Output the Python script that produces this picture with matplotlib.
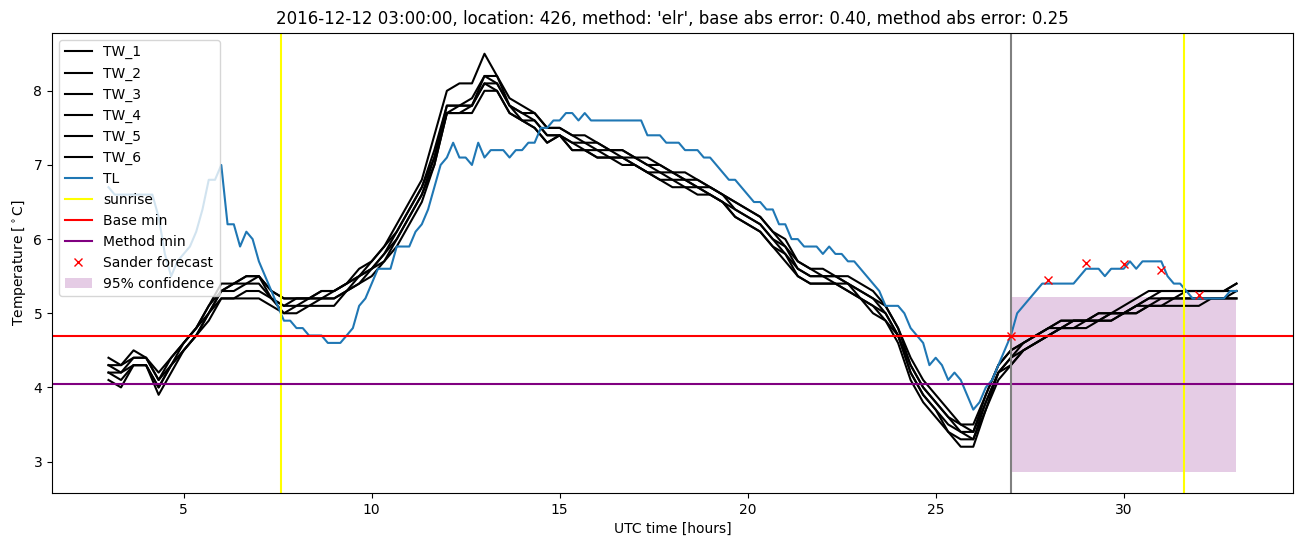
import numpy as np
import matplotlib
matplotlib.use("Agg")
import matplotlib.pyplot as plt

# 10-minute road temperature (TL), 3h .. 33h
tl_time = np.linspace(3, 33, 181)
tl = [
    6.7, 6.6, 6.6, 6.6, 6.6, 6.6,   # 3
    6.6, 6.6, 6.3, 5.8, 5.5, 5.7,   # 4
    5.8, 5.9, 6.1, 6.4, 6.8, 6.8,   # 5
    7.0, 6.2, 6.2, 5.9, 6.1, 6.0,   # 6
    5.7, 5.5, 5.3, 5.1, 4.9, 4.9,   # 7
    4.8, 4.8, 4.7, 4.7, 4.7, 4.6,   # 8
    4.6, 4.6, 4.7, 4.8, 5.1, 5.2,   # 9
    5.4, 5.6, 5.6, 5.6, 5.9, 5.9,   # 10
    5.9, 6.1, 6.2, 6.4, 6.7, 7.0,   # 11
    7.1, 7.3, 7.1, 7.1, 7.0, 7.3,   # 12
    7.1, 7.2, 7.2, 7.2, 7.1, 7.2,   # 13
    7.2, 7.3, 7.3, 7.5, 7.5, 7.6,   # 14
    7.6, 7.7, 7.7, 7.6, 7.7, 7.6,   # 15
    7.6, 7.6, 7.6, 7.6, 7.6, 7.6,   # 16
    7.6, 7.6, 7.4, 7.4, 7.4, 7.3,   # 17
    7.3, 7.3, 7.2, 7.2, 7.2, 7.1,   # 18
    7.1, 7.0, 6.9, 6.8, 6.8, 6.7,   # 19
    6.6, 6.5, 6.5, 6.4, 6.4, 6.2,   # 20
    6.2, 6.0, 6.0, 5.9, 5.9, 5.9,   # 21
    5.8, 5.9, 5.8, 5.8, 5.7, 5.7,   # 22
    5.6, 5.5, 5.4, 5.3, 5.1, 5.1,   # 23
    5.1, 5.0, 4.8, 4.7, 4.6, 4.3,   # 24
    4.4, 4.3, 4.1, 4.2, 4.1, 3.9,   # 25
    3.7, 3.8, 4.0, 4.1, 4.3, 4.5,   # 26
    4.7, 5.0, 5.1, 5.2, 5.3, 5.4,   # 27
    5.4, 5.4, 5.4, 5.4, 5.4, 5.5,   # 28
    5.6, 5.6, 5.6, 5.5, 5.6, 5.6,   # 29
    5.6, 5.7, 5.6, 5.7, 5.7, 5.7,   # 30
    5.7, 5.5, 5.4, 5.4, 5.3, 5.2,   # 31
    5.2, 5.2, 5.2, 5.2, 5.2, 5.3,   # 32
    5.3,
]

# 20-minute wet-bulb / sensor series TW_1..TW_6
tw_time = np.linspace(3, 33, 91)
tw_1 = [4.4, 4.3, 4.5, 4.4, 4.2, 4.4, 4.6, 4.8, 5.1, 5.4, 5.4, 5.5,
        5.5, 5.3, 5.2, 5.2, 5.2, 5.3, 5.3, 5.4, 5.6, 5.7, 5.9, 6.2,
        6.5, 6.8, 7.4, 8.0, 8.1, 8.1, 8.5, 8.2, 7.9, 7.8, 7.7, 7.5,
        7.5, 7.4, 7.4, 7.3, 7.2, 7.2, 7.1, 7.1, 7.0, 6.9, 6.9, 6.8,
        6.7, 6.6, 6.5, 6.4, 6.3, 6.1, 6.0, 5.7, 5.6, 5.6, 5.5, 5.5,
        5.4, 5.3, 5.1, 4.8, 4.4, 4.1, 3.9, 3.7, 3.5, 3.5, 3.9, 4.3,
        4.5, 4.6, 4.7, 4.8, 4.9, 4.9, 4.9, 5.0, 5.0, 5.1, 5.2, 5.3,
        5.3, 5.3, 5.3, 5.3, 5.3, 5.3, 5.4]
tw_2 = [4.3, 4.3, 4.4, 4.4, 4.1, 4.4, 4.6, 4.8, 5.1, 5.3, 5.4, 5.5,
        5.5, 5.3, 5.2, 5.2, 5.2, 5.3, 5.3, 5.4, 5.5, 5.7, 5.9, 6.1,
        6.4, 6.7, 7.2, 7.8, 7.8, 7.9, 8.2, 8.2, 7.8, 7.7, 7.7, 7.5,
        7.5, 7.4, 7.3, 7.3, 7.2, 7.2, 7.1, 7.0, 7.0, 6.9, 6.8, 6.8,
        6.7, 6.6, 6.5, 6.4, 6.3, 6.1, 5.9, 5.7, 5.6, 5.5, 5.5, 5.4,
        5.3, 5.2, 5.1, 4.8, 4.3, 4.0, 3.8, 3.6, 3.5, 3.4, 3.9, 4.3,
        4.5, 4.6, 4.7, 4.8, 4.9, 4.9, 4.9, 5.0, 5.0, 5.0, 5.1, 5.2,
        5.3, 5.3, 5.3, 5.3, 5.3, 5.3, 5.4]
tw_3 = [4.3, 4.2, 4.4, 4.4, 4.1, 4.3, 4.6, 4.8, 5.0, 5.3, 5.4, 5.4,
        5.5, 5.2, 5.1, 5.2, 5.2, 5.2, 5.3, 5.4, 5.5, 5.6, 5.8, 6.1,
        6.4, 6.7, 7.1, 7.8, 7.8, 7.8, 8.2, 8.1, 7.8, 7.7, 7.6, 7.4,
        7.4, 7.3, 7.3, 7.2, 7.2, 7.1, 7.1, 7.0, 6.9, 6.9, 6.8, 6.7,
        6.7, 6.6, 6.4, 6.3, 6.2, 6.0, 5.9, 5.6, 5.5, 5.5, 5.5, 5.4,
        5.3, 5.2, 5.0, 4.7, 4.3, 4.0, 3.8, 3.6, 3.4, 3.4, 3.8, 4.2,
        4.4, 4.6, 4.7, 4.8, 4.8, 4.9, 4.9, 4.9, 5.0, 5.0, 5.1, 5.2,
        5.2, 5.2, 5.3, 5.3, 5.3, 5.3, 5.3]
tw_4 = [4.2, 4.2, 4.3, 4.3, 4.0, 4.3, 4.5, 4.7, 5.0, 5.3, 5.3, 5.4,
        5.4, 5.2, 5.1, 5.1, 5.2, 5.2, 5.2, 5.3, 5.5, 5.6, 5.8, 6.0,
        6.3, 6.6, 7.1, 7.7, 7.8, 7.8, 8.1, 8.1, 7.8, 7.6, 7.6, 7.4,
        7.4, 7.3, 7.2, 7.2, 7.1, 7.1, 7.0, 6.9, 6.9, 6.8, 6.8, 6.7,
        6.6, 6.5, 6.4, 6.3, 6.2, 6.0, 5.8, 5.6, 5.5, 5.5, 5.4, 5.4,
        5.2, 5.1, 5.0, 4.7, 4.2, 3.9, 3.7, 3.5, 3.4, 3.3, 3.8, 4.2,
        4.4, 4.5, 4.6, 4.7, 4.8, 4.9, 4.9, 4.9, 5.0, 5.0, 5.1, 5.1,
        5.2, 5.2, 5.2, 5.2, 5.2, 5.2, 5.3]
tw_5 = [4.2, 4.1, 4.3, 4.3, 4.0, 4.3, 4.5, 4.7, 5.0, 5.2, 5.2, 5.3,
        5.3, 5.2, 5.0, 5.1, 5.1, 5.2, 5.2, 5.3, 5.4, 5.6, 5.7, 6.0,
        6.3, 6.6, 7.0, 7.7, 7.7, 7.8, 8.1, 8.0, 7.7, 7.6, 7.5, 7.3,
        7.4, 7.2, 7.2, 7.1, 7.1, 7.1, 7.0, 6.9, 6.8, 6.8, 6.7, 6.7,
        6.6, 6.5, 6.3, 6.2, 6.1, 5.9, 5.8, 5.5, 5.4, 5.4, 5.4, 5.3,
        5.2, 5.1, 4.9, 4.7, 4.2, 3.9, 3.7, 3.4, 3.3, 3.3, 3.7, 4.2,
        4.3, 4.5, 4.6, 4.7, 4.8, 4.8, 4.9, 4.9, 4.9, 5.0, 5.0, 5.1,
        5.1, 5.2, 5.2, 5.2, 5.2, 5.2, 5.2]
tw_6 = [4.1, 4.0, 4.3, 4.3, 3.9, 4.2, 4.5, 4.7, 4.9, 5.2, 5.2, 5.2,
        5.2, 5.1, 5.0, 5.0, 5.1, 5.1, 5.1, 5.3, 5.4, 5.5, 5.7, 5.9,
        6.2, 6.5, 7.0, 7.7, 7.7, 7.7, 8.0, 8.0, 7.7, 7.6, 7.5, 7.3,
        7.4, 7.2, 7.2, 7.1, 7.1, 7.0, 7.0, 6.9, 6.8, 6.7, 6.7, 6.6,
        6.6, 6.5, 6.3, 6.2, 6.1, 5.9, 5.7, 5.5, 5.4, 5.4, 5.4, 5.3,
        5.2, 5.0, 4.9, 4.6, 4.1, 3.8, 3.6, 3.4, 3.2, 3.2, 3.7, 4.1,
        4.3, 4.5, 4.6, 4.7, 4.8, 4.8, 4.8, 4.9, 4.9, 5.0, 5.0, 5.1,
        5.1, 5.1, 5.1, 5.1, 5.2, 5.2, 5.2]
tw_series = [tw_1, tw_2, tw_3, tw_4, tw_5, tw_6]

sunrise = [7.58, 31.6]
base_min = 4.70
method_min = 4.05
forecast_start = 27.0

sander_time = [27, 28, 29, 30, 31, 32]
sander_temp = [4.7, 5.45, 5.68, 5.67, 5.59, 5.25]

conf_time = [27.0, 33.0]
conf_low = [2.86, 2.86]
conf_high = [5.22, 5.22]

title = ("2016-12-12 03:00:00, location: 426, method: 'elr', "
         "base abs error: 0.40, method abs error: 0.25")

fig = plt.figure(figsize=(13.02, 5.47), dpi=100)
ax = fig.add_axes([0.040, 0.099, 0.953, 0.841])

for i, tw in enumerate(tw_series):
    ax.plot(tw_time, tw, color='k', label='TW_%d' % (i + 1))
ax.plot(tl_time, tl, color='C0', label='TL')
for j, s in enumerate(sunrise):
    ax.axvline(s, color='yellow', label='sunrise' if j == 0 else None)
ax.axhline(base_min, color='red', label='Base min')
ax.axhline(method_min, color='purple', label='Method min')
ax.axvline(forecast_start, color='grey')
ax.plot(sander_time, sander_temp, 'rx', label='Sander forecast')
ax.fill_between(conf_time, conf_low, conf_high, color='purple', alpha=0.2,
                linewidth=0, label='95% confidence')

ax.set_title(title)
ax.set_xlabel('UTC time [hours]')
ax.set_ylabel(r'Temperature [$^\circ$C]')
ax.legend(loc='upper left')

fig.savefig('out.png', dpi=100)
